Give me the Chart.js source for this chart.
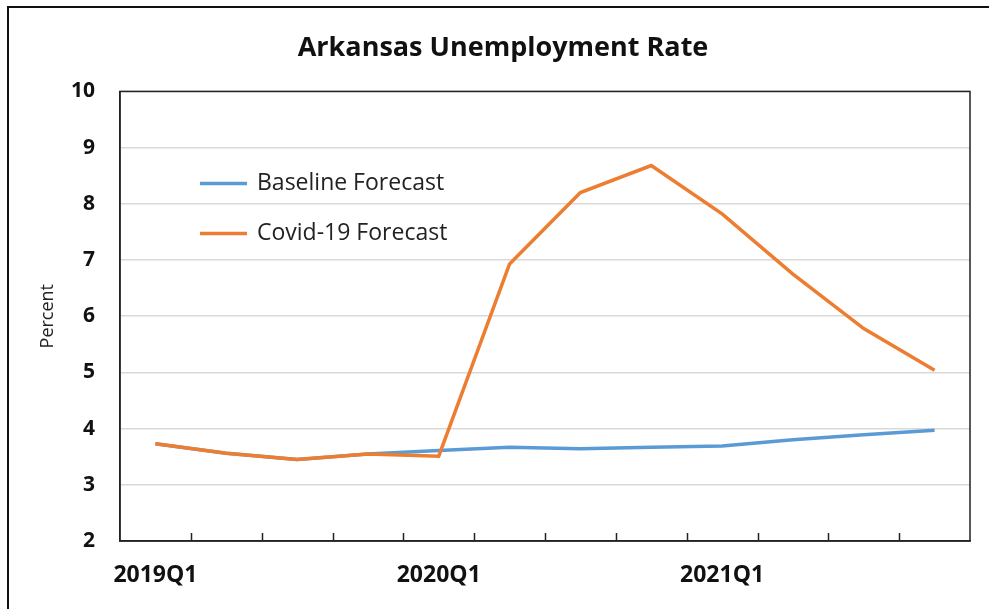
<!DOCTYPE html>
<html>
<head>
<meta charset="utf-8">
<script src="https://cdn.jsdelivr.net/npm/chart.js@4.4.0/dist/chart.umd.min.js"></script>
<style>
  html, body { margin: 0; padding: 0; background: #fff; }
  #wrap { width: 989px; height: 609px; position: relative; }
</style>
</head>
<body>
<div id="wrap"><canvas id="c" width="989" height="609"></canvas></div>
<script>
const categories = ['2019Q1','2019Q2','2019Q3','2019Q4','2020Q1','2020Q2','2020Q3','2020Q4','2021Q1','2021Q2','2021Q3','2021Q4'];
const baselineForecast = [3.73, 3.56, 3.45, 3.55, 3.61, 3.67, 3.64, 3.67, 3.69, 3.80, 3.89, 3.97];
const covidForecast = [3.73, 3.56, 3.45, 3.55, 3.51, 6.93, 8.20, 8.68, 7.82, 6.75, 5.78, 5.04];
const yTicks = [2, 3, 4, 5, 6, 7, 8, 9, 10];

const FONT = "'Open Sans', 'DejaVu Sans', sans-serif";

const decor = {
  id: 'decor',
  beforeDraw(chart) {
    const ctx = chart.ctx;
    ctx.save();
    ctx.fillStyle = '#fff';
    ctx.fillRect(0, 0, chart.width, chart.height);
    ctx.strokeStyle = '#111';
    ctx.lineWidth = 2;
    ctx.beginPath();
    ctx.moveTo(8, chart.height);
    ctx.lineTo(8, 7);
    ctx.lineTo(chart.width, 7);
    ctx.stroke();
    ctx.restore();
  },
  afterDatasetsDraw(chart) {
    const ctx = chart.ctx;
    const a = chart.chartArea;
    const xs = chart.scales.x;
    ctx.save();
    ctx.strokeStyle = '#222';
    ctx.lineWidth = 1.5;
    ctx.strokeRect(a.left, a.top, a.right - a.left, a.bottom - a.top);
    const half = (xs.getPixelForValue(1) - xs.getPixelForValue(0)) / 2;
    ctx.lineWidth = 1.5;
    ctx.beginPath();
    for (let i = 1; i < categories.length; i++) {
      const x = Math.round(xs.getPixelForValue(i) - half) + 0.5;
      ctx.moveTo(x, a.bottom);
      ctx.lineTo(x, a.bottom - 8);
    }
    ctx.stroke();
    // legend
    const ds = chart.data.datasets;
    ctx.font = '23px ' + FONT;
    ctx.textBaseline = 'middle';
    ds.forEach((d, i) => {
      const y = a.top + 92 + i * 50;
      ctx.strokeStyle = d.borderColor;
      ctx.lineWidth = 3.5;
      ctx.beginPath();
      ctx.moveTo(a.left + 80, y);
      ctx.lineTo(a.left + 127, y);
      ctx.stroke();
      ctx.fillStyle = '#222';
      ctx.fillText(d.label, a.left + 137, y);
    });
    ctx.restore();
  }
};

new Chart(document.getElementById('c'), {
  type: 'line',
  data: {
    labels: categories,
    datasets: [
      { label: 'Baseline Forecast', data: baselineForecast, borderColor: '#5B9BD5', borderWidth: 3.5, pointRadius: 0, tension: 0, order: 2 },
      { label: 'Covid-19 Forecast', data: covidForecast, borderColor: '#ED7D31', borderWidth: 3.5, pointRadius: 0, tension: 0, order: 1 }
    ]
  },
  options: {
    responsive: false,
    animation: false,
    layout: { padding: { left: 36, right: 19, top: 0, bottom: 0 } },
    plugins: {
      legend: { display: false },
      tooltip: { enabled: false },
      title: {
        display: true,
        text: 'Arkansas Unemployment Rate',
        color: '#111',
        font: { family: FONT, size: 27, weight: 'bold', lineHeight: 1.2 },
        padding: { top: 32, bottom: 27 }
      }
    },
    scales: {
      x: {
        type: 'category',
        offset: true,
        grid: { display: true, drawOnChartArea: false, drawTicks: false },
        border: { display: true, color: '#222', width: 1.5 },
        ticks: {
          autoSkip: false,
          maxRotation: 0,
          padding: 21,
          color: '#111',
          font: { family: FONT, size: 23, weight: 'bold', lineHeight: 1.2 },
          callback: function(v, i) { return i % 4 === 0 ? categories[i] : ''; }
        },
        afterFit(s) { s.height = 68; }
      },
      y: {
        min: 2,
        max: 10,
        afterBuildTicks(s) { s.ticks = yTicks.map(v => ({ value: v })); },
        grid: { color: '#d9d9d9', lineWidth: 1.5, drawTicks: false },
        border: { display: true, color: '#222', width: 1.5 },
        ticks: {
          padding: 25,
          color: '#111',
          font: { family: FONT, size: 21, weight: 'bold' }
        },
        title: {
          display: true,
          text: 'Percent',
          color: '#222',
          font: { family: FONT, size: 18, weight: 'normal', lineHeight: 1.2 },
          padding: { top: 1, bottom: 0 }
        },
        afterFit(s) { s.width = 84; }
      }
    }
  },
  plugins: [decor]
});
</script>
</body>
</html>
